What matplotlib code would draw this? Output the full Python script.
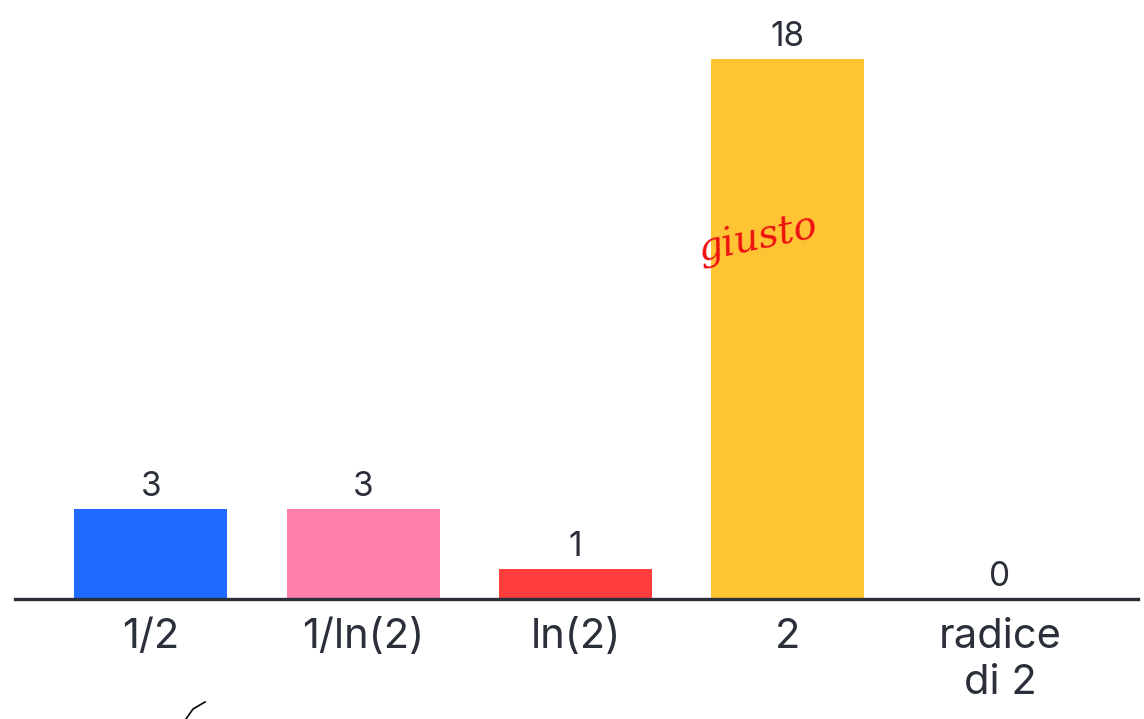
import matplotlib
matplotlib.use("Agg")
import matplotlib.pyplot as plt
from matplotlib.lines import Line2D

categories = ["1/2", "1/ln(2)", "ln(2)", "2", "radice\ndi 2"]
values = [3, 3, 1, 18, 0]
colors = ["#1F6BFF", "#FF7EAA", "#FF3D3D", "#FFC434", "#CCCCCC"]
text_color = "#2A2F3A"

plt.rcParams['font.family'] = ['Inter', 'DejaVu Sans']

W, H = 1144, 719
fig = plt.figure(figsize=(W / 100, H / 100), dpi=100)
left, right, bottom, top = 15, 1138, 599, 0
ax = fig.add_axes([left / W, (H - bottom) / H, (right - left) / W, (bottom - top) / H])

x = list(range(len(categories)))
ax.bar(x, values, width=0.72, color=colors, zorder=2)
ax.set_xlim(-0.64, 4.65)
ax.set_ylim(0, 19.97)

for xi, v in zip(x, values):
    ax.annotate(str(v), (xi, v), xytext=(0, 4.5), textcoords="offset points",
                ha="center", va="bottom", fontsize=24, color=text_color)

ax.set_xticks(x)
ax.set_xticklabels(categories, fontsize=30, color=text_color, linespacing=1.25)
ax.tick_params(axis="x", length=0, pad=14)
ax.set_yticks([])
for s in ["left", "right", "top"]:
    ax.spines[s].set_visible(False)
ax.spines["bottom"].set_color(text_color)
ax.spines["bottom"].set_linewidth(2.4)
ax.spines["bottom"].set_zorder(3)

# handwritten annotation
ax.text(2.86, 12.0, "giusto", color="#EE1111", fontsize=28, style="italic",
        rotation=12, ha="center", va="center", family=["DejaVu Serif"])

# small pen stroke
fig.add_artist(Line2D([186 / W, 193 / W, 205 / W], [(H - 719) / H, (H - 709) / H, (H - 702) / H],
                      color="black", linewidth=1.2))

fig.savefig("out.png", dpi=100, facecolor="white")
